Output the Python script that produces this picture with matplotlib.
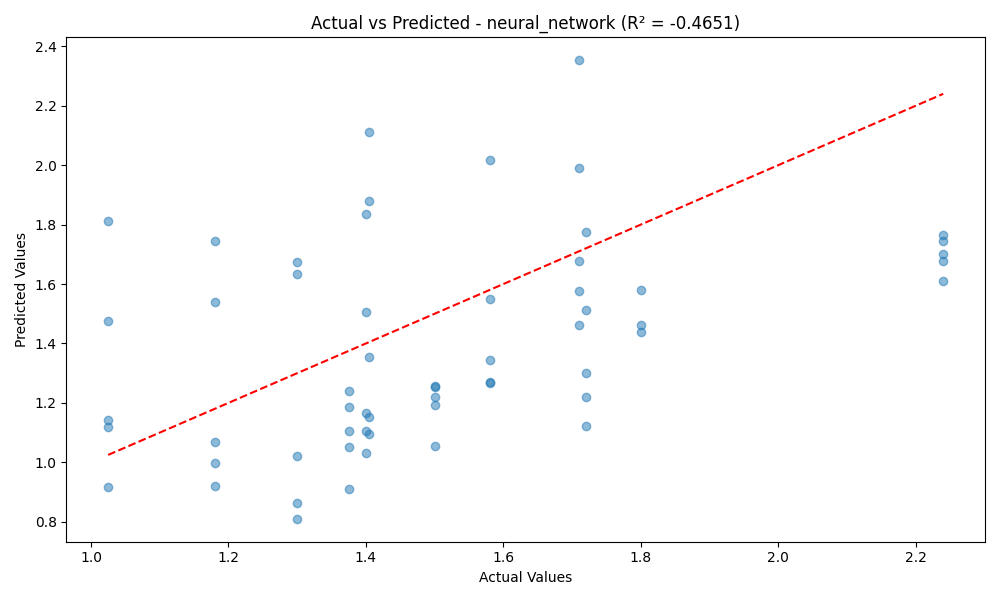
import numpy as np
import matplotlib.pyplot as plt

actual = [1.025]*5 + [1.18]*5 + [1.30]*5 + [1.375]*5 + [1.40]*5 + [1.405]*5 + \
         [1.50]*5 + [1.58]*5 + [1.71]*5 + [1.72]*5 + [1.80]*3 + [2.24]*5
predicted = [1.813, 1.477, 1.142, 1.118, 0.917,
             1.746, 1.541, 1.068, 0.997, 0.920,
             1.675, 1.635, 1.021, 0.863, 0.810,
             1.239, 1.185, 1.105, 1.051, 0.910,
             1.836, 1.507, 1.165, 1.105, 1.031,
             2.110, 1.880, 1.356, 1.152, 1.095,
             1.256, 1.254, 1.219, 1.192, 1.055,
             2.017, 1.551, 1.343, 1.269, 1.266,
             2.353, 1.990, 1.679, 1.578, 1.461,
             1.776, 1.514, 1.300, 1.219, 1.122,
             1.581, 1.461, 1.440,
             1.766, 1.746, 1.702, 1.679, 1.611]

fig, ax = plt.subplots(figsize=(10, 6), dpi=100)
ax.scatter(actual, predicted, alpha=0.5)
lo, hi = min(actual), max(actual)
ax.plot([lo, hi], [lo, hi], 'r--')
ax.set_xlabel('Actual Values')
ax.set_ylabel('Predicted Values')
ax.set_title('Actual vs Predicted - neural_network (R² = -0.4651)')
plt.tight_layout()
plt.savefig('out.png')
